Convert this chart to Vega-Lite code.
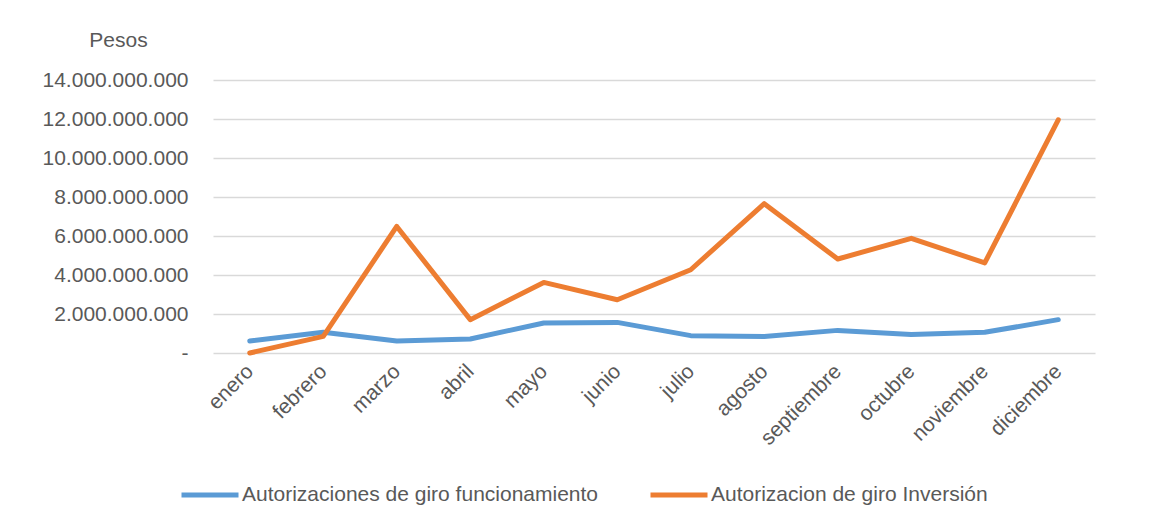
{
  "$schema": "https://vega.github.io/schema/vega-lite/v6.json",
  "autosize": {"type": "none"},
  "width": 882,
  "height": 273,
  "padding": {"left": 213, "top": 80, "right": 66, "bottom": 172},
  "background": "white",
  "config": {
    "locale": {"number": {"decimal": ",", "thousands": ".", "grouping": [3], "currency": ["$", ""]}},
    "view": {"stroke": null},
    "font": "Liberation Sans"
  },
  "data": {
    "values": [
      {"mes": "enero", "serie": "Autorizaciones de giro funcionamiento", "valor": 620000000},
      {"mes": "febrero", "serie": "Autorizaciones de giro funcionamiento", "valor": 1060000000},
      {"mes": "marzo", "serie": "Autorizaciones de giro funcionamiento", "valor": 620000000},
      {"mes": "abril", "serie": "Autorizaciones de giro funcionamiento", "valor": 720000000},
      {"mes": "mayo", "serie": "Autorizaciones de giro funcionamiento", "valor": 1540000000},
      {"mes": "junio", "serie": "Autorizaciones de giro funcionamiento", "valor": 1570000000},
      {"mes": "julio", "serie": "Autorizaciones de giro funcionamiento", "valor": 890000000},
      {"mes": "agosto", "serie": "Autorizaciones de giro funcionamiento", "valor": 850000000},
      {"mes": "septiembre", "serie": "Autorizaciones de giro funcionamiento", "valor": 1160000000},
      {"mes": "octubre", "serie": "Autorizaciones de giro funcionamiento", "valor": 950000000},
      {"mes": "noviembre", "serie": "Autorizaciones de giro funcionamiento", "valor": 1060000000},
      {"mes": "diciembre", "serie": "Autorizaciones de giro funcionamiento", "valor": 1710000000},
      {"mes": "enero", "serie": "Autorizacion de giro Inversión", "valor": 0},
      {"mes": "febrero", "serie": "Autorizacion de giro Inversión", "valor": 850000000},
      {"mes": "marzo", "serie": "Autorizacion de giro Inversión", "valor": 6490000000},
      {"mes": "abril", "serie": "Autorizacion de giro Inversión", "valor": 1710000000},
      {"mes": "mayo", "serie": "Autorizacion de giro Inversión", "valor": 3620000000},
      {"mes": "junio", "serie": "Autorizacion de giro Inversión", "valor": 2730000000},
      {"mes": "julio", "serie": "Autorizacion de giro Inversión", "valor": 4270000000},
      {"mes": "agosto", "serie": "Autorizacion de giro Inversión", "valor": 7660000000},
      {"mes": "septiembre", "serie": "Autorizacion de giro Inversión", "valor": 4820000000},
      {"mes": "octubre", "serie": "Autorizacion de giro Inversión", "valor": 5880000000},
      {"mes": "noviembre", "serie": "Autorizacion de giro Inversión", "valor": 4620000000},
      {"mes": "diciembre", "serie": "Autorizacion de giro Inversión", "valor": 11960000000}
    ]
  },
  "mark": {"type": "line", "strokeWidth": 5, "strokeCap": "round", "strokeJoin": "round"},
  "encoding": {
    "x": {
      "field": "mes",
      "type": "ordinal",
      "sort": ["enero", "febrero", "marzo", "abril", "mayo", "junio", "julio", "agosto", "septiembre", "octubre", "noviembre", "diciembre"],
      "scale": {"type": "point", "padding": 0.5},
      "axis": {
        "title": null,
        "domain": false,
        "ticks": false,
        "grid": false,
        "labelAngle": -45,
        "labelAlign": "right",
        "labelBaseline": "middle",
        "labelPadding": 15,
        "labelFontSize": 21,
        "labelColor": "#595959",
        "labelFont": "Liberation Sans"
      }
    },
    "y": {
      "field": "valor",
      "type": "quantitative",
      "scale": {"domain": [0, 14000000000], "nice": false},
      "axis": {
        "values": [0, 2000000000, 4000000000, 6000000000, 8000000000, 10000000000, 12000000000, 14000000000],
        "format": ",.0f",
        "labelExpr": "datum.value === 0 ? '-\u00a0\u00a0' : datum.label",
        "domain": false,
        "ticks": false,
        "gridColor": "#D9D9D9",
        "gridWidth": 1.3,
        "labelPadding": 25,
        "labelFontSize": 21,
        "labelColor": "#595959",
        "labelFont": "Liberation Sans",
        "title": "Pesos",
        "titleAngle": 0,
        "titleX": -95,
        "titleY": -40,
        "titleAlign": "center",
        "titleBaseline": "middle",
        "titleFontSize": 21,
        "titleFontWeight": "normal",
        "titleColor": "#595959",
        "titleFont": "Liberation Sans"
      }
    },
    "color": {
      "field": "serie",
      "type": "nominal",
      "scale": {
        "domain": ["Autorizaciones de giro funcionamiento", "Autorizacion de giro Inversión"],
        "range": ["#5B9BD5", "#ED7D31"]
      },
      "legend": {
        "title": null,
        "orient": "none",
        "direction": "horizontal",
        "legendX": -34,
        "legendY": 384,
        "symbolType": "stroke",
        "symbolSize": 3249,
        "symbolStrokeWidth": 5,
        "labelOffset": 1,
        "columnPadding": 41,
        "labelFontSize": 21,
        "labelColor": "#595959",
        "labelFont": "Liberation Sans",
        "labelLimit": 600
      }
    }
  }
}
